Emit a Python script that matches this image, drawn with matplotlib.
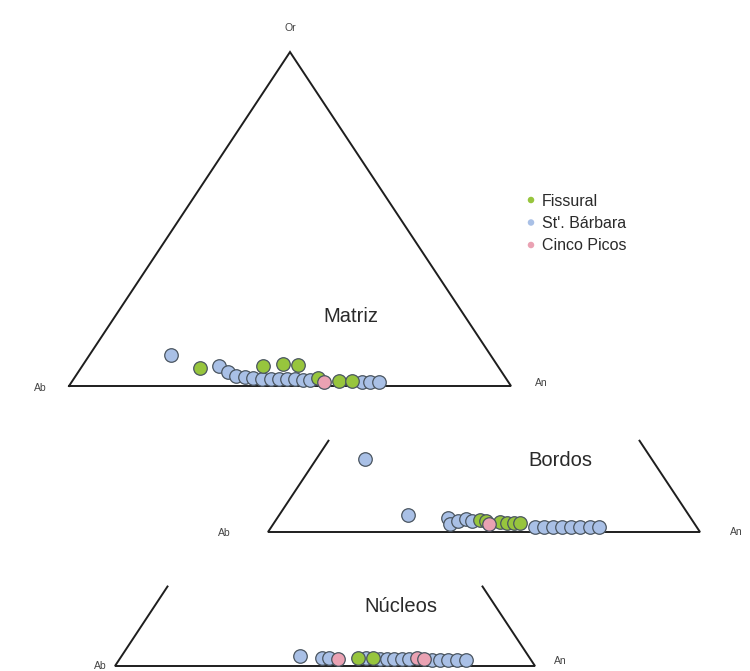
import matplotlib
matplotlib.use("Agg")
import matplotlib.pyplot as plt
import numpy as np

plt.rcParams["font.family"] = ["Liberation Sans", "DejaVu Sans"]

# Compositions in % (An, Or); Ab = 100 - An - Or
matriz_sb_an = [18.4, 30.9, 33.9, 36.3, 38.5, 40.4, 42.6, 44.6, 46.5, 48.3, 50.1, 52.0, 53.6, 65.7, 67.5, 69.5]
matriz_sb_or = [9.3, 6.0, 4.2, 3.0, 2.7, 2.4, 2.1, 2.1, 2.1, 2.1, 2.1, 1.8, 1.8, 1.2, 1.2, 1.2]
matriz_fi_an = [26.9, 40.9, 45.1, 48.7, 55.1, 60.3, 63.3]
matriz_fi_or = [5.4, 6.0, 6.6, 6.3, 2.4, 1.5, 1.5]
matriz_cp_an = [57.1]
matriz_cp_or = [1.2]

bordos_sb_an = [11.3, 29.8, 39.5, 40.9, 42.3, 43.8, 45.5, 61.0, 63.1, 65.2, 67.3, 69.4, 71.5, 73.8, 75.9]
bordos_sb_or = [22.4, 5.2, 4.3, 2.5, 3.4, 4.0, 3.4, 1.5, 1.5, 1.5, 1.5, 1.5, 1.5, 1.5, 1.5]
bordos_fi_an = [47.2, 48.8, 52.2, 53.9, 55.5, 56.9]
bordos_fi_or = [3.7, 3.4, 3.1, 2.8, 2.8, 2.8]
bordos_cp_an = [49.9]
bordos_cp_or = [2.5]

nucleos_sb_an = [42.5, 48.0, 49.7, 58.5, 62.0, 63.7, 65.3, 67.2, 68.9, 74.5, 76.4, 78.3, 80.4, 82.6]
nucleos_sb_or = [3.1, 2.5, 2.5, 2.5, 2.2, 2.2, 2.2, 2.2, 2.2, 1.9, 1.9, 1.9, 1.9, 1.9]
nucleos_fi_an = [56.6, 60.2]
nucleos_fi_or = [2.5, 2.5]
nucleos_cp_an = [52.0, 70.7, 72.5]
nucleos_cp_or = [2.2, 2.5, 2.2]

groups = ["Fissural", "St'. Bárbara", "Cinco Picos"]
colors = {"Fissural": "#97c53d", "St'. Bárbara": "#a9c0e6", "Cinco Picos": "#eaa2b3"}

# triangle geometry in figure pixels: (x of Ab vertex, base width, base y, full height, visible height fraction)
tri_matriz = (69, 442, 386, 334, 1.0)
tri_bordos = (268, 432, 532, 326, 0.28)
tri_nucleos = (115, 420, 666, 318, 0.25)


def to_xy(an, orr, tri):
    x0, w, base, h, _ = tri
    an = np.asarray(an) / 100.0
    orr = np.asarray(orr) / 100.0
    return x0 + w * (an + orr / 2), base - h * orr


def draw_triangle(ax, tri):
    x0, w, base, h, frac = tri
    lc = "#1e1e1e"
    if frac >= 1.0:
        ax.plot([x0, x0 + w / 2, x0 + w, x0], [base, base - h, base, base], color=lc, lw=1.4,
                solid_joinstyle="miter")
    else:
        ax.plot([x0 + w / 2 * frac, x0, x0 + w, x0 + w - w / 2 * frac],
                [base - h * frac, base, base, base - h * frac], color=lc, lw=1.4, solid_joinstyle="miter")


def draw_points(ax, tri, sb, fi, cp):
    for name, (an, orr) in [("St'. Bárbara", sb), ("Fissural", fi), ("Cinco Picos", cp)]:
        x, y = to_xy(an, orr, tri)
        ax.scatter(x, y, s=95, color=colors[name], edgecolor="#4a5560", linewidth=0.9, zorder=3)


fig = plt.figure(figsize=(7.5, 6.71), dpi=100)
ax = fig.add_axes([0, 0, 1, 1])
ax.set_xlim(0, 750)
ax.set_ylim(671, 0)
ax.axis("off")

for tri in (tri_matriz, tri_bordos, tri_nucleos):
    draw_triangle(ax, tri)

draw_points(ax, tri_matriz, (matriz_sb_an, matriz_sb_or), (matriz_fi_an, matriz_fi_or), (matriz_cp_an, matriz_cp_or))
draw_points(ax, tri_bordos, (bordos_sb_an, bordos_sb_or), (bordos_fi_an, bordos_fi_or), (bordos_cp_an, bordos_cp_or))
draw_points(ax, tri_nucleos, (nucleos_sb_an, nucleos_sb_or), (nucleos_fi_an, nucleos_fi_or),
            (nucleos_cp_an, nucleos_cp_or))

lab = dict(fontsize=7.5, color="#444444", ha="center", va="center")
ax.text(290, 28, "Or", **lab)
ax.text(40, 388, "Ab", **lab)
ax.text(541, 383, "An", **lab)
ax.text(224, 533, "Ab", **lab)
ax.text(736, 532, "An", **lab)
ax.text(100, 666, "Ab", **lab)
ax.text(560, 661, "An", **lab)

big = dict(fontsize=14.5, color="#2a2a2a", ha="center", va="center")
ax.text(351, 316, "Matriz", **big)
ax.text(560, 461, "Bordos", **big)
ax.text(401, 607, "Núcleos", **big)

# legend
for i, name in enumerate(groups):
    y = 200 + i * 22.5
    ax.scatter([531], [y], s=22, marker="o", color=colors[name], edgecolor="none")
    ax.text(542, y + 1, name, fontsize=11.5, color="#2a2a2a", ha="left", va="center")

fig.savefig("out.png", dpi=100)
